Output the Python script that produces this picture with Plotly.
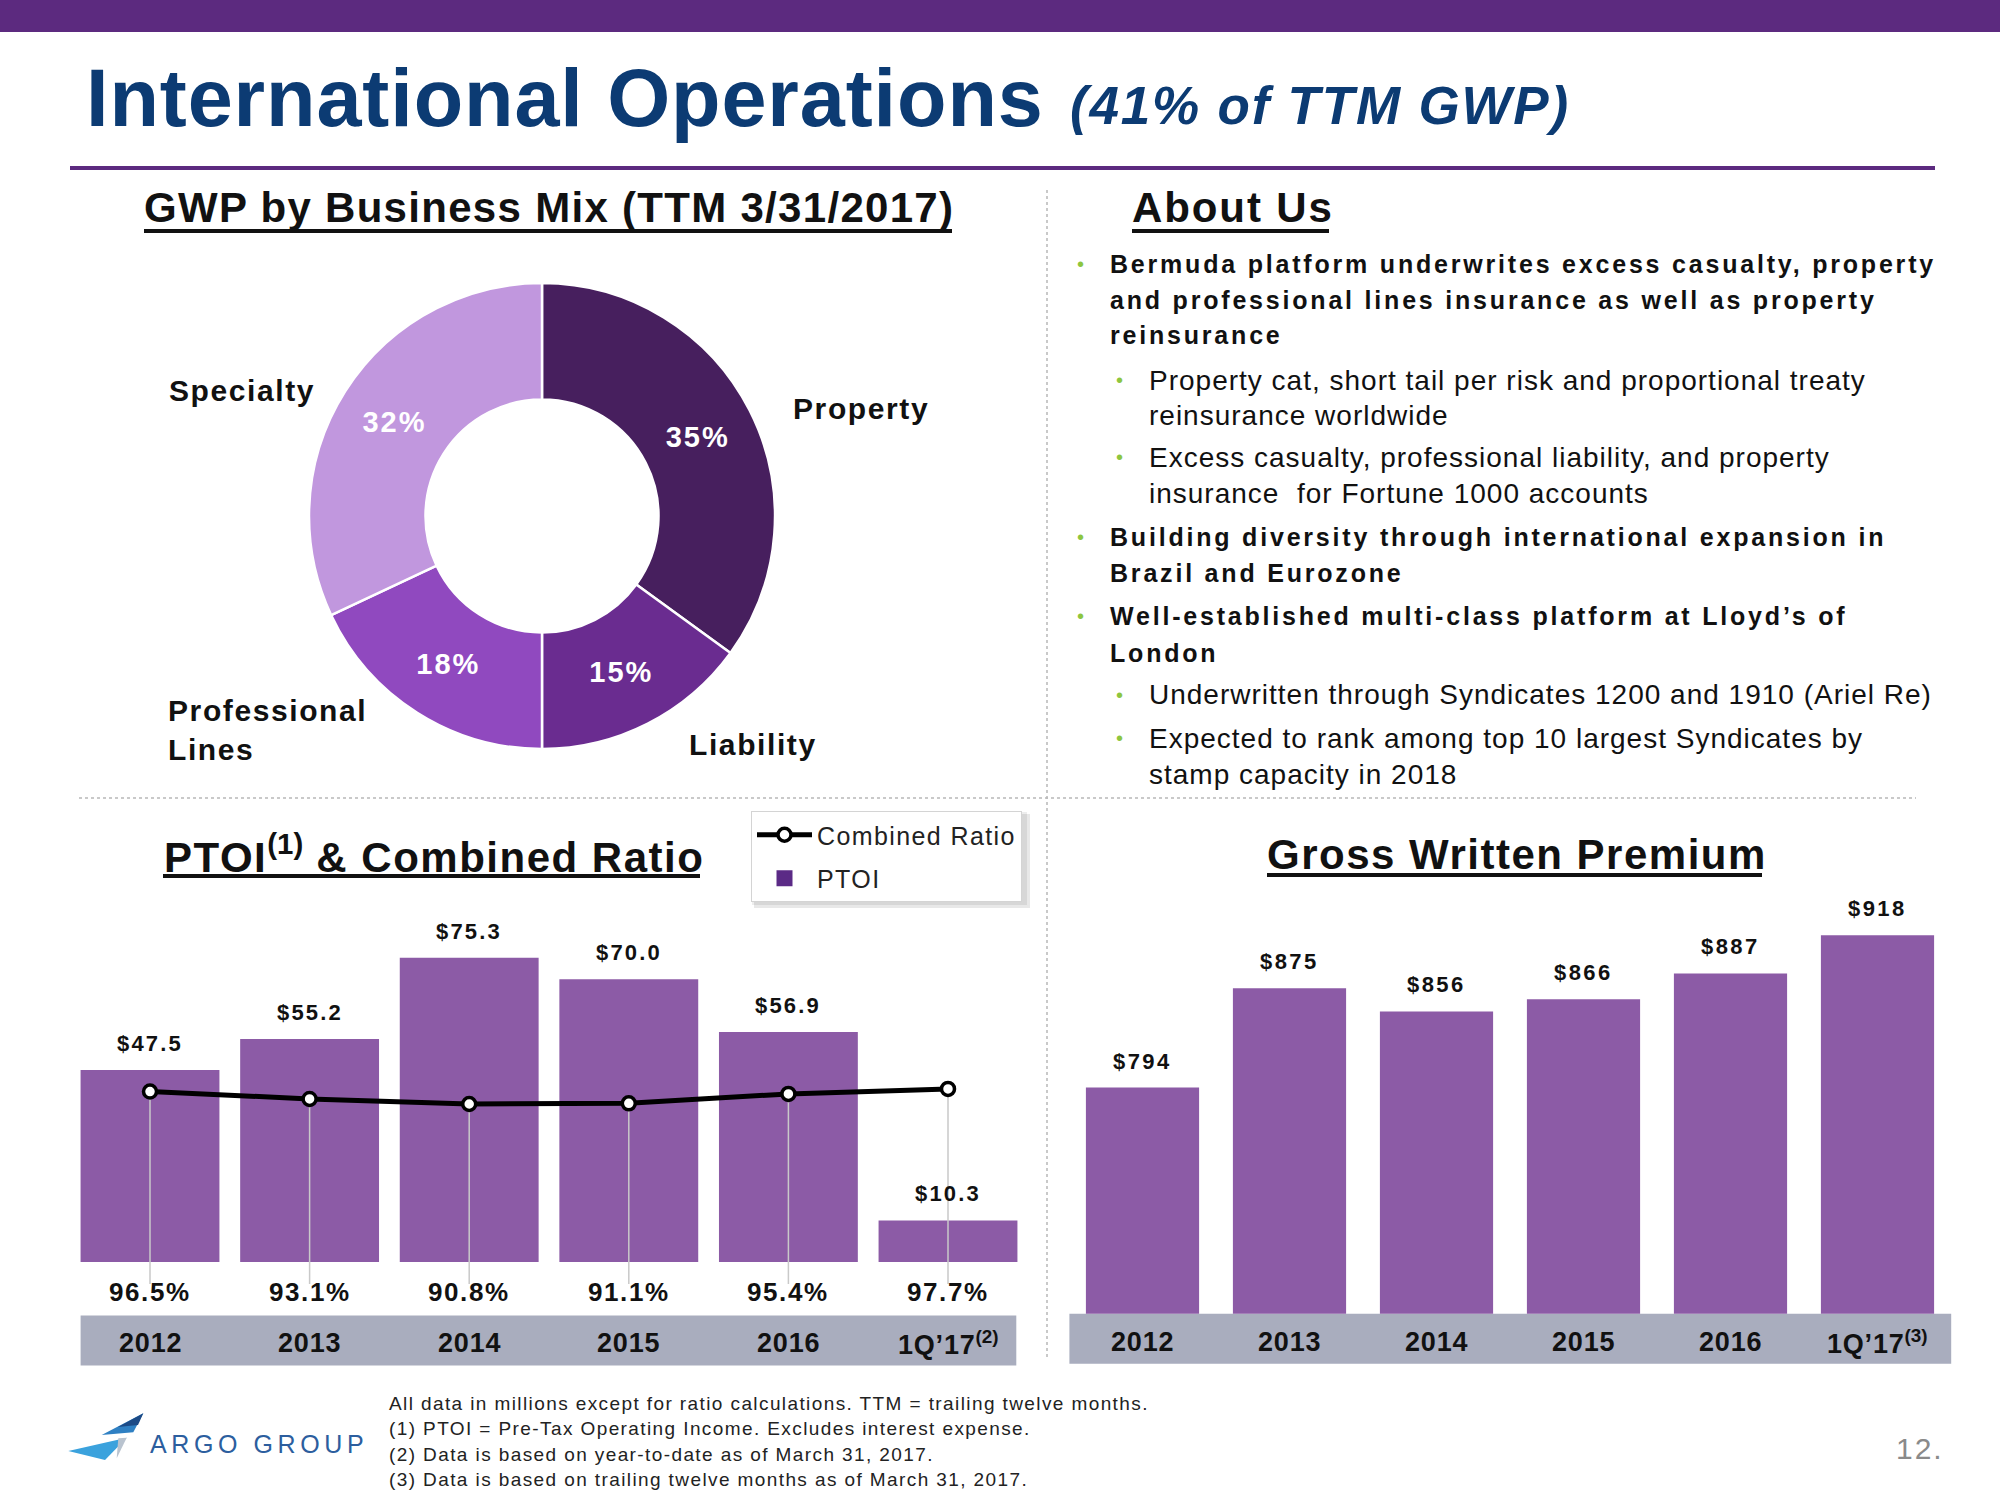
import plotly.graph_objects as go

# ---------------- data ----------------
mix_labels = ["Property", "Liability", "Professional Lines", "Specialty"]
mix_values = [35, 15, 18, 32]

periods = ["2012", "2013", "2014", "2015", "2016", "1Q’17"]
ptoi_values = [47.5, 55.2, 75.3, 70.0, 56.9, 10.3]
combined_ratio = [96.5, 93.1, 90.8, 91.1, 95.4, 97.7]
gwp_values = [794, 875, 856, 866, 887, 918]
ptoi_period_notes = ["", "", "", "", "", "(2)"]
gwp_period_notes = ["", "", "", "", "", "(3)"]

title_main = "International Operations"
title_sub = "(41% of TTM GWP)"
mix_title = "GWP by Business Mix (TTM 3/31/2017)"
about_title = "About Us"
ptoi_title = ("PTOI", "(1)", " & Combined Ratio")
gwp_title = "Gross Written Premium"

about_items = [
    (0, ["Bermuda platform underwrites excess casualty, property",
         "and professional lines insurance as well as property",
         "reinsurance"]),
    (1, ["Property cat, short tail per risk and proportional treaty",
         "reinsurance worldwide"]),
    (1, ["Excess casualty, professional liability, and property",
         "insurance\u00a0 for Fortune 1000 accounts"]),
    (0, ["Building diversity through international expansion in",
         "Brazil and Eurozone"]),
    (0, ["Well-established multi-class platform at Lloyd’s of",
         "London"]),
    (1, ["Underwritten through Syndicates 1200 and 1910 (Ariel Re)"]),
    (1, ["Expected to rank among top 10 largest Syndicates by",
         "stamp capacity in 2018"]),
]

footnotes = [
    "All data in millions except for ratio calculations. TTM = trailing twelve months.",
    "(1) PTOI = Pre-Tax Operating Income. Excludes interest expense.",
    "(2) Data is based on year-to-date as of March 31, 2017.",
    "(3) Data is based on trailing twelve months as of March 31, 2017.",
]
company = "ARGO GROUP"
page_no = "12."

# ---------------- styling / layout ----------------
W, H = 2000, 1500
FONT = "Liberation Sans, Arial, sans-serif"
PURPLE = "#5C2A7F"
TITLE_BLUE = "#0C3B73"
BAR = "#8C5BA6"
LEGEND_PURPLE = "#5B2A86"
BAND_GRAY = "#A9ADBE"
PIE_COLORS = ["#471F5E", "#6A2C90", "#9049BF", "#C197DE"]
GREEN = "#8DC63F"
BLACK = "#111111"


def fx(x):
    return x / W


def fy(y):
    return 1 - y / H


def sp(t, s):
    return f'<span style="letter-spacing:{s}px">{t}</span>' if s else t


annotations = []


def add_text(text, x, y, size, color=BLACK, weight=400, italic=False,
             xanchor="left", yanchor="middle", xref="paper", yref="paper",
             yshift=0, family=FONT, align="left"):
    annotations.append(dict(
        text=text, x=x, y=y, xref=xref, yref=yref, showarrow=False,
        xanchor=xanchor, yanchor=yanchor, yshift=yshift, align=align,
        font=dict(family=family, size=size, color=color, weight=weight,
                  style="italic" if italic else "normal")))


shapes = []


def rect(x0, y0, x1, y1, color, layer="below"):
    shapes.append(dict(type="rect", xref="paper", yref="paper",
                       x0=fx(x0), x1=fx(x1), y0=fy(y0), y1=fy(y1),
                       fillcolor=color, line=dict(width=0), layer=layer))


def hline(x0, x1, y, color, width, dash="solid"):
    shapes.append(dict(type="line", xref="paper", yref="paper",
                       x0=fx(x0), x1=fx(x1), y0=fy(y), y1=fy(y),
                       line=dict(color=color, width=width, dash=dash)))


def vline(x, y0, y1, color, width, dash="solid"):
    shapes.append(dict(type="line", xref="paper", yref="paper",
                       x0=fx(x), x1=fx(x), y0=fy(y0), y1=fy(y1),
                       line=dict(color=color, width=width, dash=dash)))


def poly(points, color):
    path = "M " + " L ".join(f"{fx(px)},{fy(py)}" for px, py in points) + " Z"
    shapes.append(dict(type="path", xref="paper", yref="paper", path=path,
                       fillcolor=color, line=dict(width=0)))


def rng(ppu, ref_val, ref_px, top_px, bot_px):
    return [ref_val - (bot_px - ref_px) / ppu, ref_val + (ref_px - top_px) / ppu]


# --- page frame ---
rect(0, 0, W, 32, PURPLE)
hline(70, 1935, 168, PURPLE, 4)
vline(1047, 190, 1360, "#B8B8B8", 1.5, "dot")
hline(79, 1916, 798, "#B8B8B8", 1.5, "dot")

add_text(sp(title_main, 0.9), fx(84), fy(98), 81, TITLE_BLUE, 700)
add_text(sp(title_sub, 1.8), fx(1068), fy(106), 53, TITLE_BLUE, 700, italic=True)

# --- section titles with underlines ---
SEC = 42
add_text(sp(mix_title, 1.3), fx(142), fy(207), SEC, BLACK, 700)
hline(144, 952, 231, BLACK, 4)
add_text(sp(about_title, 1.9), fx(1130), fy(207), SEC, BLACK, 700)
hline(1132, 1329, 231, BLACK, 4)
add_text(sp(ptoi_title[0], 1.5) + "<sup>" + ptoi_title[1] + "</sup>" + sp(ptoi_title[2], 1.5),
         fx(162), fy(854), SEC, BLACK, 700)
hline(163, 700, 876, BLACK, 4)
add_text(sp(gwp_title, 1.5), fx(1265), fy(854), SEC, BLACK, 700)
hline(1267, 1762, 875, BLACK, 4)

# --- pie labels ---
pie_label_pos = {
    "Property": (861, 409, "center"),
    "Liability": (753, 745, "center"),
    "Professional Lines": (166, 730, "left"),
    "Specialty": (242, 391, "center"),
}
for lab in mix_labels:
    x, y, anc = pie_label_pos[lab]
    add_text("<br>".join(sp(w, 1.6) for w in lab.split(" ")), fx(x), fy(y), 30,
             BLACK, 700, xanchor=anc, align="left")

# --- About Us ---
line_y = [264, 299.6, 335.2, 380, 415.6, 457.2, 494, 537.2, 573.3, 615.6,
          652.5, 694.9, 738.4, 774.1]
k = 0
for level, lines in about_items:
    bx = 1080 if level == 0 else 1119
    tx = 1108 if level == 0 else 1147
    add_text("•", fx(bx), fy(line_y[k]), 20, GREEN, 400, xanchor="center")
    for ln in lines:
        if level == 0:
            add_text(sp(ln, 2.8), fx(tx), fy(line_y[k]), 25, BLACK, 700)
        else:
            add_text(sp(ln, 1.0), fx(tx), fy(line_y[k]), 28, BLACK, 400)
        k += 1

# --- PTOI chart ---
PTOI_TOP, PTOI_BOT = 900, 1315.5
y_range = rng(4.04, 0, 1262, PTOI_TOP, PTOI_BOT)
y2_range = rng(2.19, 90.8, 1104, PTOI_TOP, PTOI_BOT)
leader_end = 90.8 - (1284 - 1104) / 2.19

rect(80.6, 1315.5, 1016.3, 1365.4, BAND_GRAY)
for i, (p, v, n) in enumerate(zip(periods, ptoi_values, ptoi_period_notes)):
    add_text(sp(f"${v:.1f}", 2.2), i, v, 22, BLACK, 700, xanchor="center",
             xref="x", yref="y", yshift=26.5)
    label = sp(p, 0.8) + (f"<sup>{n}</sup>" if n else "")
    add_text(label, i, fy(1343), 27, BLACK, 700, xanchor="center", xref="x")
for i, r in enumerate(combined_ratio):
    add_text(sp(f"{r:.1f}%", 1.6), i, fy(1291.5), 26, BLACK, 700,
             xanchor="center", xref="x")

lead_x, lead_y = [], []
for p, r in zip(periods, combined_ratio):
    lead_x += [p, p, None]
    lead_y += [r, leader_end, None]

# --- GWP chart ---
GWP_TOP, GWP_BOT = 880, 1313.8
y3_range = rng(1.228, 794, 1087.6, GWP_TOP, GWP_BOT)
rect(1069.4, 1313.8, 1951.2, 1363.7, BAND_GRAY)
for i, (p, v, n) in enumerate(zip(periods, gwp_values, gwp_period_notes)):
    add_text(sp(f"${v}", 2.4), i, v, 22, BLACK, 700, xanchor="center",
             xref="x2", yref="y3", yshift=26.5)
    label = sp(p, 0.8) + (f"<sup>{n}</sup>" if n else "")
    add_text(label, i, fy(1341.6), 27, BLACK, 700, xanchor="center", xref="x2")

# --- legend shadow ---
rect(754, 814, 1030, 908, "rgba(0,0,0,0.09)", layer="above")
rect(752, 812, 1027, 905, "rgba(0,0,0,0.07)", layer="above")

# --- footer: logo + notes ---
poly([(143.3, 1413.3), (101.7, 1435), (133.3, 1432.3)], "#2F80C3")
poly([(143.3, 1413.3), (118, 1427), (138, 1425)], "#1C4A86")
poly([(126.7, 1437.7), (68.3, 1451), (105, 1460)], "#3BA2DD")
poly([(118.3, 1438.3), (126.7, 1437.7), (116.7, 1458.3)], "#B9C3CF")
add_text(sp(company, 4.6), fx(148), fy(1444), 25, "#2C5E9E", 400)
fn_y = [1403, 1428.6, 1454, 1479.7]
for t, y in zip(footnotes, fn_y):
    add_text(sp(t, 1.4), fx(387), fy(y), 19, "#222222", 400)
add_text(sp(page_no, 2), fx(1946), fy(1448), 30, "#8A8A8A", 400, xanchor="right")

# ---------------- traces ----------------
fig = go.Figure()

fig.add_trace(go.Pie(
    labels=mix_labels, values=mix_values, sort=False, direction="clockwise",
    rotation=0, hole=0.5,
    marker=dict(colors=PIE_COLORS, line=dict(color="white", width=2.5)),
    texttemplate='<span style="letter-spacing:2px">%{value}%</span>',
    textposition="inside", insidetextorientation="horizontal",
    textfont=dict(color="white", size=29, family=FONT, weight=700),
    domain=dict(x=[fx(309), fx(775)], y=[fy(749), fy(283)]),
    showlegend=False, hoverinfo="label+percent"))

fig.add_trace(go.Bar(
    x=periods, y=ptoi_values, xaxis="x", yaxis="y", width=0.87,
    marker=dict(color=BAR, line=dict(width=0)), name="PTOI", showlegend=False))

fig.add_trace(go.Scatter(
    x=lead_x, y=lead_y, xaxis="x", yaxis="y2", mode="lines",
    line=dict(color="#C9C9C9", width=1.5), showlegend=False, hoverinfo="skip"))

fig.add_trace(go.Scatter(
    x=periods, y=combined_ratio, xaxis="x", yaxis="y2", mode="lines+markers",
    line=dict(color="black", width=5),
    marker=dict(symbol="circle", size=13, color="white",
                line=dict(color="black", width=3.5)),
    name=sp("Combined Ratio", 1.4), legendrank=1, legendgroup="a"))

# legend swatch for the PTOI bars (no data drawn)
fig.add_trace(go.Scatter(
    x=[None], y=[None], xaxis="x", yaxis="y", mode="markers",
    marker=dict(symbol="square", size=16, color=LEGEND_PURPLE),
    name=sp("PTOI", 1.4), legendrank=2, legendgroup="b", hoverinfo="skip"))

fig.add_trace(go.Bar(
    x=periods, y=gwp_values, xaxis="x2", yaxis="y3", width=0.77,
    marker=dict(color=BAR, line=dict(width=0)), showlegend=False))

hidden = dict(visible=False, showgrid=False, zeroline=False, fixedrange=True)
fig.update_layout(
    width=W, height=H, margin=dict(l=0, r=0, t=0, b=0),
    paper_bgcolor="white", plot_bgcolor="rgba(0,0,0,0)",
    xaxis=dict(domain=[fx(70.2), fx(1027.8)], range=[-0.5, 5.5], type="category",
               anchor="y", **hidden),
    yaxis=dict(domain=[fy(PTOI_BOT), fy(PTOI_TOP)], range=y_range, anchor="x", **hidden),
    yaxis2=dict(domain=[fy(PTOI_BOT), fy(PTOI_TOP)], range=y2_range, overlaying="y",
                anchor="x", side="right", **hidden),
    xaxis2=dict(domain=[fx(1069), fx(1951)], range=[-0.5, 5.5], type="category",
                anchor="y3", **hidden),
    yaxis3=dict(domain=[fy(GWP_BOT), fy(GWP_TOP)], range=y3_range, anchor="x2", **hidden),
    showlegend=True,
    legend=dict(x=fx(751), y=fy(811), xanchor="left", yanchor="top",
                bgcolor="white", bordercolor="#D4D4D4", borderwidth=1,
                font=dict(family=FONT, size=25, color="#222222"),
                traceorder="grouped", itemwidth=55, tracegroupgap=8,
                itemsizing="trace"),
    annotations=annotations, shapes=shapes,
)

fig.write_html("out.html", config={"displayModeBar": False},
               post_script="document.body.style.margin='0';document.body.style.overflow='hidden';")
